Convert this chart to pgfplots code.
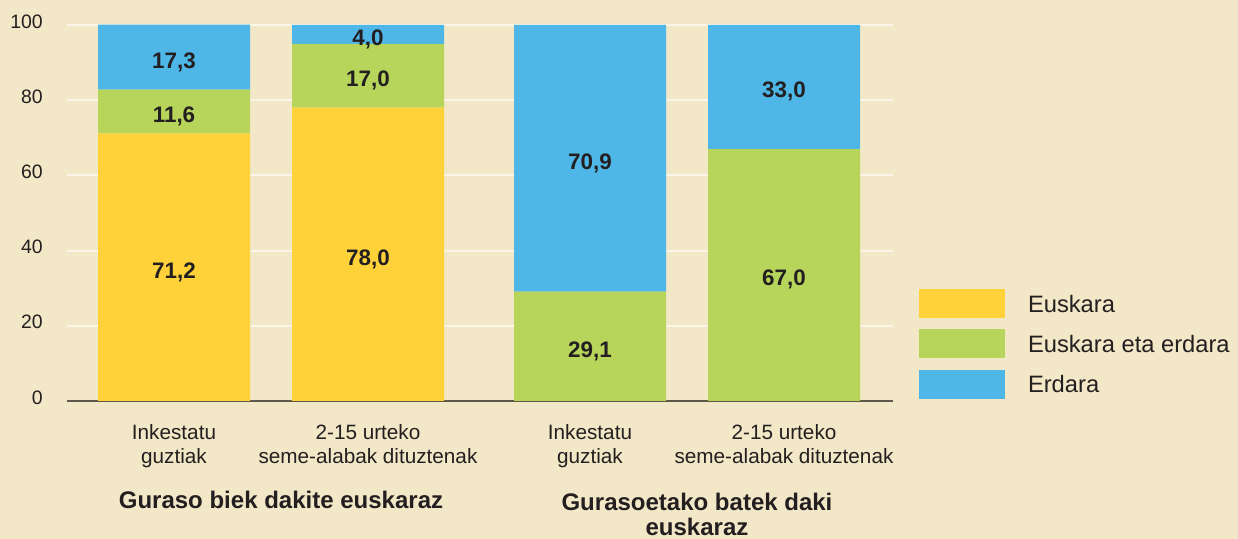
\documentclass[border=0pt]{standalone}
\usepackage{pgfplots}
\pgfplotsset{compat=1.18}
\usepackage{pgfplotstable}
\usepackage{fontspec}
\setmainfont{Liberation Sans}
\definecolor{bg}{RGB}{242,231,198}
\definecolor{yel}{RGB}{255,210,58}
\definecolor{grn}{RGB}{182,213,90}
\definecolor{blu}{RGB}{78,183,232}
\definecolor{gridc}{RGB}{250,245,230}
\definecolor{axc}{RGB}{95,88,72}
\definecolor{txt}{RGB}{35,31,32}
\newcommand\tickfont{\fontsize{19.5}{23}\selectfont}
\newcommand\catfont{\fontsize{20.8}{24}\selectfont}
\newcommand\valfont{\fontsize{22.5}{26}\selectfont\bfseries}
\newcommand\legfont{\fontsize{23.8}{27}\selectfont}
\newcommand\grpfont{\fontsize{24.1}{26}\selectfont\bfseries}

\pgfplotstableread{
x eus mix erd
174 71.2 11.6 17.3
368 78.0 17.0 5.0
590 0 29.1 70.9
784 0 67.0 33.0
}\bardata

\pgfplotstableread{
x y lab
174 35.2 71,2
174 76.6 11,6
174 91.0 17,3
368 38.6 78,0
368 86.2 17,0
368 97.2 4,0
590 14.2 29,1
590 64.2 70,9
784 33.2 67,0
784 83.2 33,0
}\labdata

\begin{document}
\begin{tikzpicture}
\fill[bg] (0,0) rectangle (1238bp,539bp);
\useasboundingbox (0,0) rectangle (1238bp,539bp);
\begin{axis}[
  at={(67bp,138bp)}, anchor=south west,
  scale only axis, width=826bp, height=376bp,
  xmin=67, xmax=893, ymin=0, ymax=100,
  enlargelimits=false,
  ybar stacked, bar width=152,
  axis x line=bottom, axis y line=left,
  x axis line style={-, draw=axc, line width=1.6bp},
  y axis line style={draw=none},
  major tick length=0pt,
  ytick={0,20,40,60,80,100},
  ymajorgrids, major grid style={draw=gridc, line width=2bp},
  xtick={174,368,590,784},
  xticklabels={{Inkestatu\\guztiak},{2-15 urteko\\seme-alabak dituztenak},{Inkestatu\\guztiak},{2-15 urteko\\seme-alabak dituztenak}},
  xticklabel style={align=center, anchor=north, inner sep=0pt, yshift=-23.5bp, font=\catfont, text=txt},
  yticklabel style={anchor=east, inner sep=0pt, xshift=-24bp, yshift=3.5bp, font=\tickfont, text=txt},
  /pgf/number format/assume math mode=true,
  legend style={at={(axis description cs:1.0315,0.2979)}, anchor=north west, draw=none, fill=none, inner sep=0pt, outer sep=0pt, row sep=11.4bp, column sep=23bp, font=\legfont, text=txt, nodes={inner sep=0pt}},
  legend cell align=left,
  legend image code/.code={\fill[#1] (0bp,-13.8bp) rectangle (86bp,15.2bp);},
]
\addplot[fill=yel, draw=none] table[x=x, y=eus] {\bardata};
\addplot[fill=grn, draw=none] table[x=x, y=mix] {\bardata};
\addplot[fill=blu, draw=none] table[x=x, y=erd] {\bardata};
\legend{Euskara, Euskara eta erdara, Erdara}
\end{axis}
\begin{axis}[
  at={(67bp,138bp)}, anchor=south west,
  scale only axis, width=826bp, height=376bp,
  xmin=67, xmax=893, ymin=0, ymax=100,
  enlargelimits=false, axis lines=none,
]
\addplot[only marks, mark=none, nodes near coords, point meta=explicit symbolic,
  every node near coord/.style={anchor=center, yshift=-3.5bp, font=\valfont, text=txt}]
  table[x=x, y=y, meta=lab] {\labdata};
\end{axis}
\node[anchor=base, font=\grpfont, text=txt, inner sep=0pt] at (281bp,30.7bp) {Guraso biek dakite euskaraz};
\node[anchor=base, font=\grpfont, text=txt, inner sep=0pt] at (697bp,28.5bp) {Gurasoetako batek daki};
\node[anchor=base, font=\grpfont, text=txt, inner sep=0pt] at (697bp,3.5bp) {euskaraz};
\end{tikzpicture}
\end{document}
